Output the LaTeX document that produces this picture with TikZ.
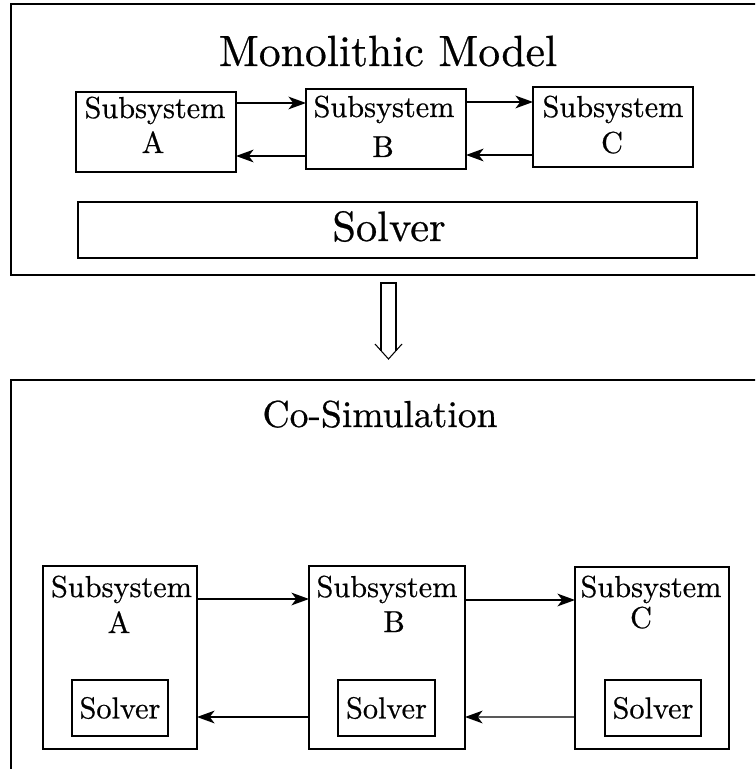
\documentclass[tikz,border=0pt]{standalone}
\usepackage{fontspec}
\setmainfont{lmroman10-regular.otf}[FakeBold=0.6]
\usetikzlibrary{arrows.meta}
\def\pxu{0.33pt}
\begin{document}
\begin{tikzpicture}[x=\pxu, y=-\pxu,
  frame/.style={draw, line width=0.85pt},
  sbox/.style={draw, line width=0.45pt, inner sep=0pt, outer sep=0pt},
  cbox/.style={draw, line width=0.6pt, inner sep=0pt, outer sep=0pt},
  ibox/.style={draw, line width=0.4pt, inner sep=0pt, outer sep=0pt, font=\fontsize{10}{12}\selectfont},
  txt/.style={inner sep=0pt, anchor=base, font=\fontsize{10}{12}\selectfont},
  arr/.style={-{Stealth[length=5.8pt,width=4.2pt,inset=1.6pt]}, line width=0.4pt}]
\useasboundingbox (0,0) rectangle (755,769);
\clip (0,0) rectangle (755,769);

% ---------- Monolithic model ----------
\draw[frame] (11,4) rectangle (800,275);
\node[txt, font=\fontsize{14.4}{17}\selectfont] (mtitle) at (388,66) {Monolithic Model};

\node[sbox, minimum width=160*\pxu, minimum height=80*\pxu] (mA) at (156,132) {};
\node[sbox, minimum width=160*\pxu, minimum height=80*\pxu] (mB) at (386,129) {};
\node[sbox, minimum width=160*\pxu, minimum height=80*\pxu] (mC) at (613,127) {};
\node[txt] (mA1) at (155,118) {Subsystem};
\node[txt] (mA2) at (153,153) {A};
\node[txt] (mB1) at (384,117) {Subsystem};
\node[txt] (mB2) at (383,157) {B};
\node[txt] (mC1) at (613,117) {Subsystem};
\node[txt] (mC2) at (612,153) {C};

\node[sbox, minimum width=619*\pxu, minimum height=56*\pxu] (mS) at (387.5,230) {};
\node[txt, font=\fontsize{14}{17}\selectfont] (mSt) at (389,241) {Solver};

\draw[arr] ([yshift=29*\pxu]mA.east) -- ([yshift=26*\pxu]mB.west);
\draw[arr] ([yshift=27*\pxu]mB.east) -- ([yshift=25*\pxu]mC.west);
\draw[arr] ([yshift=-27*\pxu]mB.west) -- ([yshift=-24*\pxu]mA.east);
\draw[arr] ([yshift=-28*\pxu]mC.west) -- ([yshift=-26*\pxu]mB.east);

% ---------- transition arrow ----------
\draw[line width=0.35pt, line join=miter] (375,344) -- (388.5,359) -- (402,344);
\draw[line width=0.35pt] (381,351) -- (381,283) -- (396,283) -- (396,351);

% ---------- Co-simulation ----------
\draw[frame] (11,380) rectangle (800,800);
\node[txt, font=\fontsize{12.4}{15}\selectfont] (ctitle) at (380,427) {Co-Simulation};

\node[cbox, minimum width=154*\pxu, minimum height=183*\pxu] (cA) at (120,657.5) {};
\node[cbox, minimum width=156*\pxu, minimum height=183*\pxu] (cB) at (387,657.5) {};
\node[cbox, minimum width=154*\pxu, minimum height=182*\pxu] (cC) at (652,658) {};
\node[txt] (cA1) at (121.5,597) {Subsystem};
\node[txt] (cA2) at (119,633) {A};
\node[txt] (cB1) at (387,597) {Subsystem};
\node[txt] (cB2) at (394,632) {B};
\node[txt] (cC1) at (651,597) {Subsystem};
\node[txt] (cC2) at (641,628) {C};

\node[ibox, minimum width=96*\pxu, minimum height=56*\pxu] (sA) at (120,708) {Solver};
\node[ibox, minimum width=97*\pxu, minimum height=56*\pxu] (sB) at (386.5,708) {Solver};
\node[ibox, minimum width=96*\pxu, minimum height=56*\pxu] (sC) at (653,708) {Solver};

\draw[arr] ([yshift=58.5*\pxu]cA.east) -- ([yshift=58.5*\pxu]cB.west);
\draw[arr] ([yshift=57.5*\pxu]cB.east) -- ([yshift=58*\pxu]cC.west);
\draw[arr] ([yshift=-59.5*\pxu]cB.west) -- ([yshift=-59.5*\pxu]cA.east);
\draw[arr] ([yshift=-59*\pxu]cC.west) -- ([yshift=-59.5*\pxu]cB.east);
\end{tikzpicture}
\end{document}
